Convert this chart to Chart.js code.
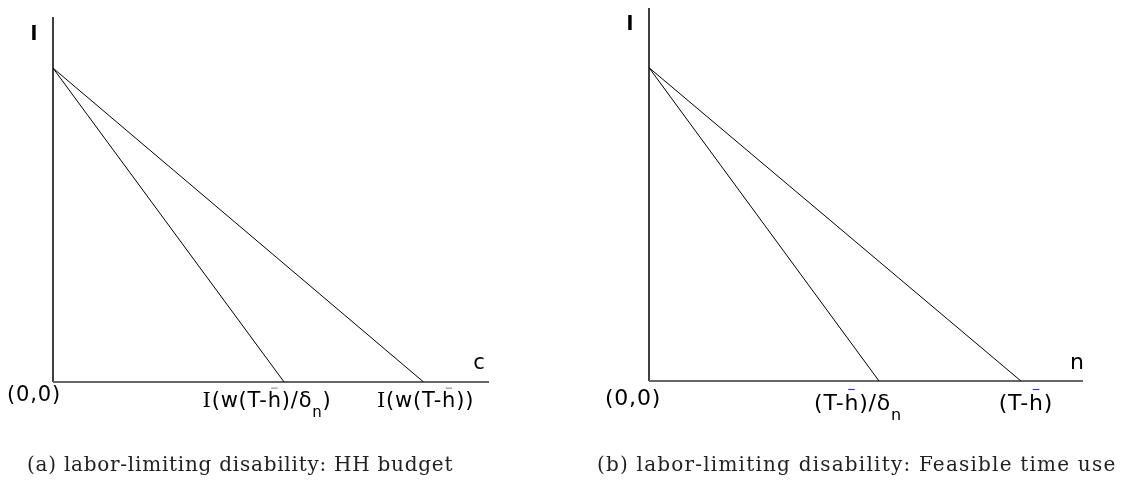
<!DOCTYPE html>
<html>
<head>
<meta charset="utf-8">
<script src="https://cdn.jsdelivr.net/npm/chart.js@4.4.1/dist/chart.umd.min.js"></script>
<style>
  body { margin: 0; background: #fff; width: 1125px; height: 484px; position: relative; overflow: hidden; }
  canvas { position: absolute; top: 0; }
  #left { left: 0; }
  #right { left: 560px; }
  .caption { position: absolute; top: 452px; font-family: "DejaVu Serif", serif; font-size: 20px; letter-spacing: 0.75px; color: #222; white-space: nowrap; }
</style>
</head>
<body>
<canvas id="left" width="560" height="484"></canvas>
<canvas id="right" width="565" height="484"></canvas>
<div class="caption" style="left:27px">(a) labor-limiting disability: HH budget</div>
<div class="caption" style="left:597px; letter-spacing:1.2px">(b) labor-limiting disability: Feasible time use</div>
<script>
// budget lines: leisure intercept and consumption intercepts
const budgetTop = 86
const budgetEnds = [53, 85]
// time use lines: leisure intercept and work-time intercepts
const timeTop = 84
const timeEnds = [53, 85.7]

// label pieces: {t, serif, bar, sub}
const budgetTicks = [
    [{ t: '(0,0)' }],
    [{ t: 'I', serif: true }, { t: '(w(T-' }, { t: 'h', bar: true }, { t: ')/δ' }, { t: 'n', sub: true }, { t: ')' }],
    [{ t: 'I', serif: true }, { t: '(w(T-' }, { t: 'h', bar: true }, { t: '))' }],
]
const timeTicks = [
    [{ t: '(0,0)' }],
    [{ t: '(T-' }, { t: 'h', bar: true }, { t: ')/δ' }, { t: 'n', sub: true }],
    [{ t: '(T-' }, { t: 'h', bar: true }, { t: ')' }],
]

const SANS = '"DejaVu Sans", Verdana, sans-serif'

function pieceFont(p, size) {
    const s = p.sub ? Math.round(size * 0.72) : size
    return s + 'px ' + (p.serif ? '"DejaVu Serif", serif' : SANS)
}

function drawRich(ctx, pieces, cx, y, size, spacing, barColor) {
    ctx.letterSpacing = spacing + 'px'
    let total = 0
    pieces.forEach(p => { ctx.font = pieceFont(p, size); total += ctx.measureText(p.t).width })
    let x = cx - total / 2
    ctx.textBaseline = 'middle'
    ctx.textAlign = 'left'
    pieces.forEach(p => {
        ctx.font = pieceFont(p, size)
        const w = ctx.measureText(p.t).width
        ctx.fillStyle = '#000'
        ctx.fillText(p.t, x, p.sub ? y + size * 0.55 : y)
        if (p.bar) {
            ctx.strokeStyle = barColor
            ctx.lineWidth = 1.2
            ctx.beginPath()
            ctx.moveTo(x + w * 0.25, y - size * 0.66)
            ctx.lineTo(x + w * 0.7, y - size * 0.66)
            ctx.stroke()
        }
        x += w
    })
    ctx.letterSpacing = '0px'
}

// axes and text labels drawn around the data lines
function diagramPlugin(opts) {
    return {
        id: 'diagram',
        beforeDatasetsDraw(chart) {
            const { ctx, chartArea: a } = chart
            const xs = chart.scales.x, ys = chart.scales.y
            const x0 = xs.getPixelForValue(0), y0 = ys.getPixelForValue(0)
            ctx.save()
            ctx.strokeStyle = '#000'
            ctx.lineWidth = 1.5
            ctx.beginPath()
            ctx.moveTo(x0, a.top)
            ctx.lineTo(x0, y0)
            ctx.stroke()
            ctx.strokeStyle = '#666'
            ctx.lineWidth = 2
            ctx.beginPath()
            ctx.moveTo(x0, y0)
            ctx.lineTo(a.right, y0)
            ctx.stroke()
            ctx.restore()
        },
        afterDraw(chart) {
            const { ctx, chartArea: a } = chart
            const xs = chart.scales.x, ys = chart.scales.y
            const x0 = xs.getPixelForValue(0), y0 = ys.getPixelForValue(0)
            ctx.save()
            ctx.fillStyle = '#000'
            ctx.textBaseline = 'middle'
            ctx.textAlign = 'center'
            ctx.font = 'bold 20px ' + SANS
            ctx.fillText('l', x0 + opts.yLabelDx, a.top + opts.yLabelDy)
            ctx.font = opts.size + 'px ' + SANS
            ctx.fillText(opts.xName, a.right - opts.nameDx, y0 - 18)
            drawRich(ctx, opts.ticks[0], x0 - opts.originDx, y0 + opts.originDy, opts.size, 0.8, opts.barColor)
            opts.ends.forEach((v, i) => {
                drawRich(ctx, opts.ticks[i + 1], xs.getPixelForValue(v) + opts.tickDx[i], y0 + opts.tickDy,
                    opts.size, opts.spacing, opts.barColor)
            })
            ctx.restore()
        }
    }
}

function makeChart(id, top, ends, padding, opts) {
    const datasets = ends.map(e => ({
        data: [{ x: 0, y: top }, { x: e, y: 0 }],
        showLine: true,
        borderColor: '#000',
        borderWidth: 1,
        pointRadius: 0,
    }))
    return new Chart(document.getElementById(id), {
        type: 'scatter',
        data: { datasets: datasets },
        options: {
            responsive: false,
            animation: false,
            layout: { padding: padding },
            plugins: { legend: { display: false }, tooltip: { enabled: false } },
            scales: {
                x: { type: 'linear', min: 0, max: 100, display: false },
                y: { type: 'linear', min: 0, max: 100, display: false },
            },
        },
        plugins: [diagramPlugin(Object.assign({ ends: ends }, opts))],
    })
}

makeChart('left', budgetTop, budgetEnds, { left: 53, right: 71, top: 17, bottom: 102 }, {
    ticks: budgetTicks, xName: 'c', nameDx: 10, yLabelDx: -19, yLabelDy: 18, size: 21, spacing: 0.8,
    originDx: 19, originDy: 14, tickDy: 20, tickDx: [-17, 2], barColor: '#8a8ac0',
})
makeChart('right', timeTop, timeEnds, { left: 89, right: 42, top: 8, bottom: 103 }, {
    ticks: timeTicks, xName: 'n', nameDx: 6, yLabelDx: -19, yLabelDy: 17, size: 22, spacing: 0.8,
    originDx: 16, originDy: 18, tickDy: 23, tickDx: [-21, 5], barColor: '#3a3ad0',
})
</script>
</body>
</html>
